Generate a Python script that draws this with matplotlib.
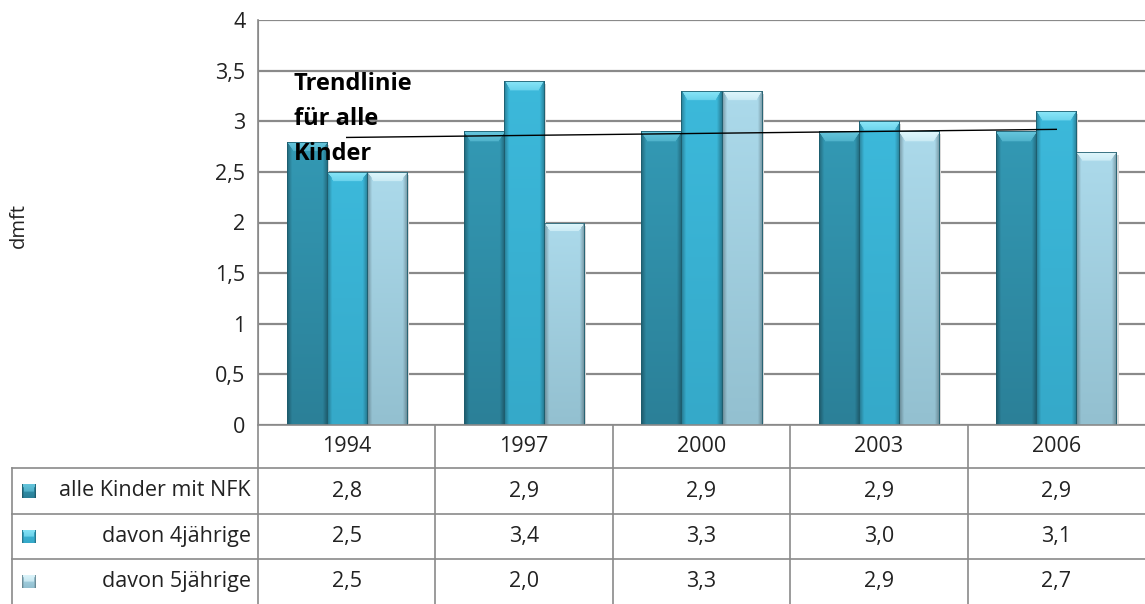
import numpy as np
import matplotlib as mpl
mpl.use('Agg')
import matplotlib.pyplot as plt
from matplotlib.colors import to_rgb
from matplotlib.transforms import blended_transform_factory

years = ["1994", "1997", "2000", "2003", "2006"]
series = ["alle Kinder mit NFK", "davon 4jährige", "davon 5jährige"]
alle = [2.8, 2.9, 2.9, 2.9, 2.9]
vier = [2.5, 3.4, 3.3, 3.0, 3.1]
fuenf = [2.5, 2.0, 3.3, 2.9, 2.7]
yticks = [0, 0.5, 1, 1.5, 2, 2.5, 3, 3.5, 4]
ytick_labels = ["0", "0,5", "1", "1,5", "2", "2,5", "3", "3,5", "4"]

plt.rcParams['font.family'] = ['Open Sans', 'DejaVu Sans']
FS = 15.5
TXT = '#222222'

# (top colour, bottom colour, bevel colour)
cols = [("#3399b4", "#2b8098", "#66c6dd"),
        ("#3cb9db", "#35a9c9", "#8ae6f8"),
        ("#acdaeb", "#93c0d0", "#e0f7fc")]

W, H = 1145, 604
fig = plt.figure(figsize=(W / 100, H / 100), dpi=100)
x0, x1, ybot, ytop = 258, 1145, 425, 20
ax = fig.add_axes([x0 / W, 1 - ybot / H, (x1 - x0) / W, (ybot - ytop) / H])
ax.set_xlim(-0.5, 4.5)
ax.set_ylim(0, 4)
px_per_unit = (ybot - ytop) / 4


def shaded(top, bot, bevel, h, nr=200, nc=40):
    top, bot, bevel = np.array(to_rgb(top)), np.array(to_rgb(bot)), np.array(to_rgb(bevel))
    yy = np.linspace(0, 1, nr)[:, None, None]  # 0 top, 1 bottom
    img = top * (1 - yy) + bot * yy
    img = np.broadcast_to(img, (nr, nc, 3)).copy()
    xx = np.linspace(0, 1, nc)
    edge = np.clip(1 - np.minimum(xx, 1 - xx) / 0.12, 0, 1)
    img *= (1 - 0.3 * edge)[None, :, None]
    bev = 9 / (h * px_per_unit)
    for i in range(nr):
        f = i / (nr - 1)
        if f < bev:
            inset = f / bev * 0.15
            m = (xx > inset) & (xx < 1 - inset)
            img[i, m] = bevel * (1 - f / bev * 0.4) + img[i, m] * (f / bev * 0.4)
    return np.clip(img, 0, 1)


bw = 0.226
data = [alle, vier, fuenf]
for k, vals in enumerate(data):
    for i, v in enumerate(vals):
        xc = i + (k - 1) * bw
        # soft shadow
        ax.bar(xc + 0.012, v, width=bw, bottom=-0.03, color='#d8d8d8', zorder=2.2)
        b = ax.bar(xc, v, width=bw, color='none', edgecolor='#1d5d6e', linewidth=0.6, zorder=3)[0]
        img = shaded(*cols[k], v)
        im = ax.imshow(img, extent=(xc - bw / 2, xc + bw / 2, 0, v), aspect='auto', zorder=2.5)
        im.set_clip_path(b)

# trend line of alle Kinder
xs = np.arange(len(years))
p = np.polyfit(xs, alle, 1)
ax.plot([xs[0], xs[-1]], np.polyval(p, [xs[0], xs[-1]]), color='black', lw=1, zorder=4)

ax.set_yticks(yticks)
ax.set_yticklabels(ytick_labels, fontsize=FS, color=TXT)
ax.set_xticks([])
ax.yaxis.grid(True, color='#8a8a8a', lw=1.6)
ax.set_axisbelow(True)
for s in ['top', 'right', 'bottom']:
    ax.spines[s].set_visible(False)
ax.spines['left'].set_color('#8a8a8a')
ax.tick_params(axis='y', length=0, pad=9)
ax.set_ylabel('dmft', fontsize=14.5, color=TXT)
ax.yaxis.set_label_coords((29 - x0) / (x1 - x0), (ybot - 225) / (ybot - ytop))

fx = lambda px: px / W
fy = lambda py: 1 - py / H

for txt, base in [('Trendlinie', 90), ('für alle', 125), ('Kinder', 160)]:
    fig.text(fx(294), fy(base), txt, fontsize=17, fontweight='bold', ha='left', va='baseline',
             zorder=5, color='black')

# data table below
tr = blended_transform_factory(ax.transData, fig.transFigure)
line_c = '#8a8a8a'
rows_y = [425, 468, 514, 559, 604]
for py in rows_y[1:4]:
    fig.add_artist(plt.Line2D([fx(12), 1], [fy(py), fy(py)], color=line_c, lw=1.2))
fig.add_artist(plt.Line2D([fx(12), fx(12)], [fy(468), 0], color=line_c, lw=1.2))
fig.add_artist(plt.Line2D([fx(x0), fx(x0)], [fy(ytop), 0], color=line_c, lw=1.2))
for i in range(1, len(years)):
    fig.add_artist(plt.Line2D([i - 0.5, i - 0.5], [fy(425), 0], color=line_c, lw=1.2, transform=tr))
fig.add_artist(plt.Line2D([fx(x0), 1], [fy(425), fy(425)], color=line_c, lw=1.2))

for i, y in enumerate(years):
    fig.text(i, fy((425 + 468) / 2), y, transform=tr, ha='center', va='center', fontsize=FS, color=TXT)
for r, (name, vals) in enumerate(zip(series, data)):
    cy = fy((rows_y[r + 1] + rows_y[r + 2]) / 2)
    fig.text(fx(251), cy, name, ha='right', va='center', fontsize=FS, color=TXT)
    for i, v in enumerate(vals):
        fig.text(i, cy, f"{v:.1f}".replace('.', ','), transform=tr, ha='center', va='center',
                 fontsize=FS, color=TXT)
    mk = fig.add_axes([fx(22), cy - 7 / H, 14 / W, 14 / H])
    mk.imshow(shaded(*cols[r], 0.15, nr=14, nc=14), aspect='auto', extent=(0, 1, 0, 1))
    mk.axis('off')

fig.savefig('out.png', dpi=100)
